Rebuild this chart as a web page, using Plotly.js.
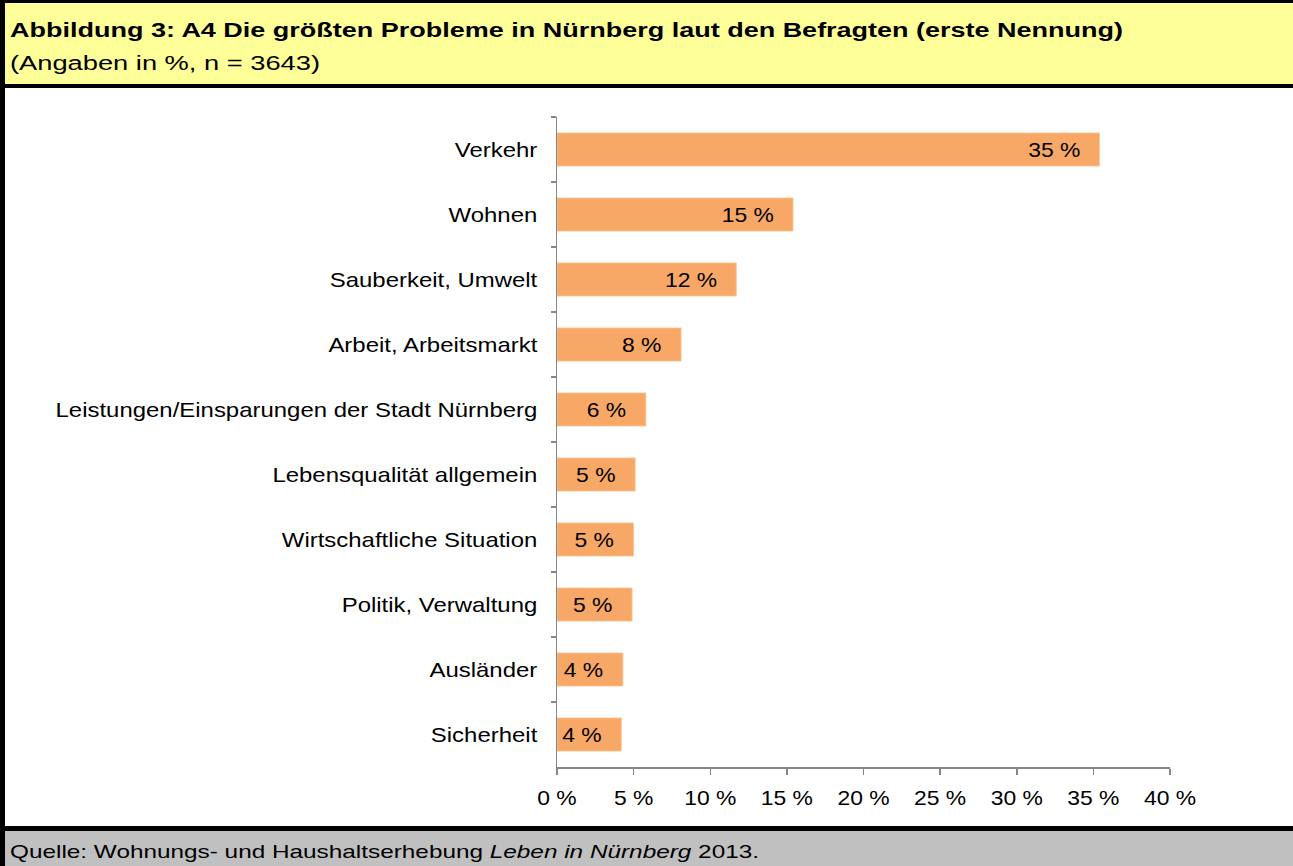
<!DOCTYPE html>
<html>
<head>
<meta charset="utf-8">
<script src="https://cdn.plot.ly/plotly-3.0.1.min.js"></script>
<style>
  html, body { margin: 0; padding: 0; background: #ffffff; }
  #chart { width: 1293px; height: 866px; }
</style>
</head>
<body>
<div id="chart"></div>
<script>
// ---- data ----
const categories = [
  "Verkehr",
  "Wohnen",
  "Sauberkeit, Umwelt",
  "Arbeit, Arbeitsmarkt",
  "Leistungen/Einsparungen der Stadt Nürnberg",
  "Lebensqualität allgemein",
  "Wirtschaftliche Situation",
  "Politik, Verwaltung",
  "Ausländer",
  "Sicherheit"
];
const values = [35.4, 15.4, 11.7, 8.1, 5.8, 5.1, 5.0, 4.9, 4.3, 4.2];
const valueLabels = ["35 %", "15 %", "12 %", "8 %", "6 %", "5 %", "5 %", "5 %", "4 %", "4 %"];
const xTickValues = [0, 5, 10, 15, 20, 25, 30, 35, 40];
const xTickLabels = ["0 %", "5 %", "10 %", "15 %", "20 %", "25 %", "30 %", "35 %", "40 %"];

const titleText = "Abbildung 3: A4 Die größten Probleme in Nürnberg laut den Befragten (erste Nennung)";
const subtitleText = "(Angaben in %, n = 3643)";
const sourceText = "Quelle: Wohnungs- und Haushaltserhebung <i>Leben in Nürnberg</i> 2013.";

// ---- geometry helpers (page pixels -> paper coords) ----
const W = 1293, H = 866;
const L = 557, R = 1170, T = 117, B = 767;
const px = x => (x - L) / (R - L);
const py = y => (B - y) / (B - T);

const FONT = "Liberation Sans, Arial, Helvetica, sans-serif";
const AXIS = "#868686";

function rect(x0, y0, x1, y1, color) {
  return {type: "rect", xref: "paper", yref: "paper",
    x0: px(x0), x1: px(x1), y0: py(y1), y1: py(y0),
    fillcolor: color, line: {width: 0}, layer: "above"};
}

const shapes = [
  rect(0, 0, W, 86, "#FFFF99"),
  rect(0, 829, W, H, "#C0C0C0"),
  rect(0, 0, W, 3, "#000000"),
  rect(0, 84, W, 88, "#000000"),
  rect(0, 826, W, 831, "#000000"),
  rect(0, 0, 5, H, "#000000")
];

const annotations = [
  {xref: "paper", yref: "paper", x: px(8), y: py(30), xanchor: "left", yanchor: "middle", align: "left",
   text: titleText, showarrow: false, font: {family: FONT, size: 20, weight: "bold", color: "#000"}},
  {xref: "paper", yref: "paper", x: px(8), y: py(63), xanchor: "left", yanchor: "middle", align: "left",
   text: subtitleText, showarrow: false, font: {family: FONT, size: 19.5, color: "#000"}},
  {xref: "paper", yref: "paper", x: px(8), y: py(851), xanchor: "left", yanchor: "middle", align: "left",
   text: sourceText, showarrow: false, font: {family: FONT, size: 19, color: "#000"}}
];

const trace = {
  type: "bar",
  orientation: "h",
  y: categories,
  x: values,
  text: valueLabels.map(t => t + "\u00a0\u00a0\u00a0"),
  textposition: "inside",
  insidetextanchor: "end",
  constraintext: "none",
  textfont: {family: FONT, size: 21, color: "#000000"},
  marker: {color: "#F8A866", line: {color: "#FBC597", width: 0.8}},
  hoverinfo: "skip"
};

const layout = {
  width: W, height: H,
  margin: {l: L, r: W - R, t: T, b: H - B, pad: 0},
  paper_bgcolor: "#ffffff",
  plot_bgcolor: "#ffffff",
  showlegend: false,
  bargap: 0.49,
  font: {family: FONT, size: 21, color: "#000"},
  xaxis: {
    range: [0, 40],
    tickvals: xTickValues,
    ticktext: xTickLabels,
    ticks: "outside", ticklen: 6, tickwidth: 1.5, tickcolor: AXIS,
    showline: true, linecolor: AXIS, linewidth: 1.5,
    showgrid: false, zeroline: false,
    tickfont: {family: FONT, size: 21, color: "#000"},
    ticklabelstandoff: 5,
    fixedrange: true
  },
  yaxis: {
    type: "category",
    autorange: "reversed",
    ticks: "outside", ticklen: 5, tickwidth: 1.5, tickcolor: AXIS,
    tickson: "boundaries",
    showline: true, linecolor: AXIS, linewidth: 1.5,
    showgrid: false, zeroline: false,
    tickfont: {family: FONT, size: 21, color: "#000"},
    ticklabelstandoff: 14,
    fixedrange: true
  },
  shapes: shapes,
  annotations: annotations
};

// horizontal text widening to match the reference's wide lettering
const annotationWidths = [1113, 310, 749];
const yTickStretch = 1.14, xTickStretch = 1.09, barTextStretch = 1.09;

Plotly.newPlot("chart", [trace], layout, {displayModeBar: false, staticPlot: true}).then(gd => {
  const widen = (t, len) => {
    t.setAttribute("textLength", len);
    t.setAttribute("lengthAdjust", "spacingAndGlyphs");
  };
  gd.querySelectorAll("g.ytick text").forEach(t => widen(t, t.getComputedTextLength() * yTickStretch));
  gd.querySelectorAll("g.xtick text").forEach(t => widen(t, t.getComputedTextLength() * xTickStretch));
  gd.querySelectorAll("text.bartext").forEach(t => widen(t, t.getComputedTextLength() * barTextStretch));
  gd.querySelectorAll("g.annotation text.annotation-text").forEach((t, i) => {
    if (annotationWidths[i]) widen(t, annotationWidths[i]);
  });
});
</script>
</body>
</html>
